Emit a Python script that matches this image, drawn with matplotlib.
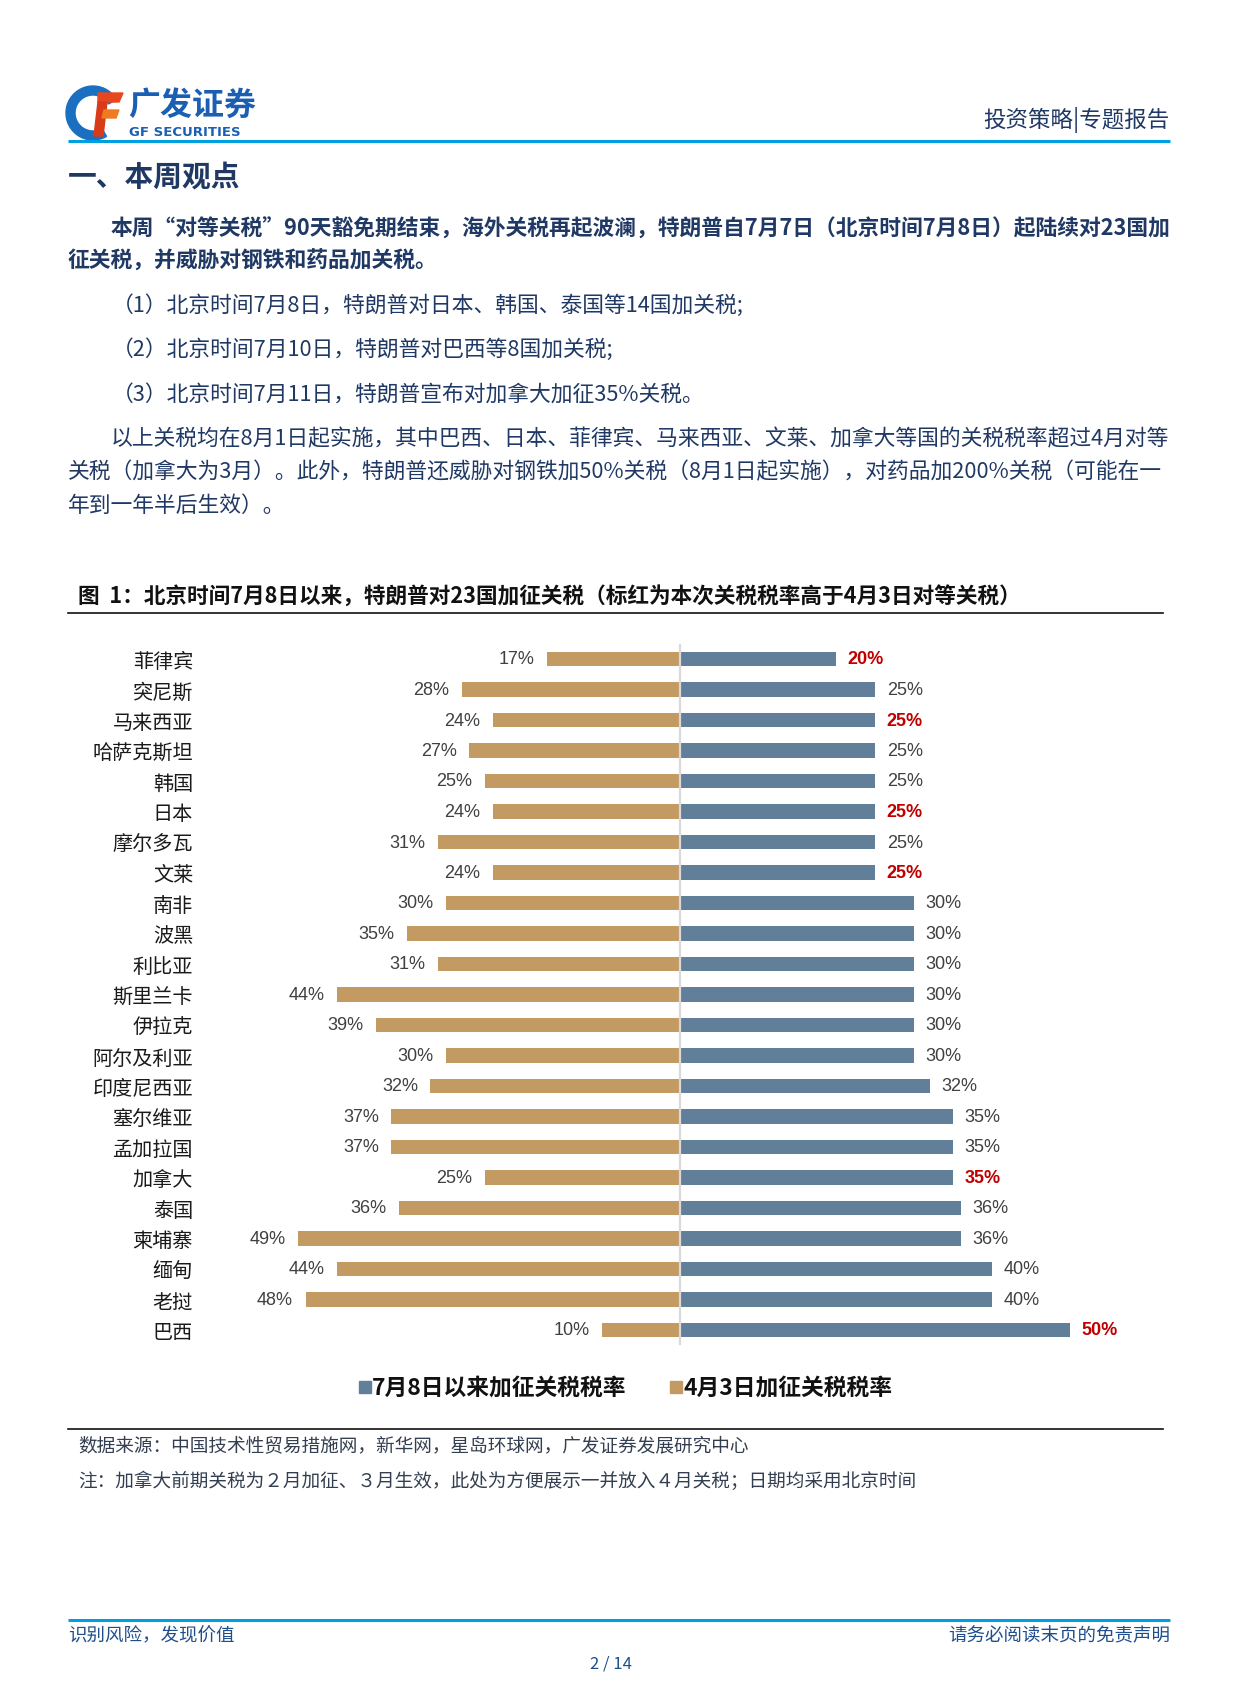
import matplotlib
matplotlib.use("Agg")
import matplotlib.pyplot as plt
from matplotlib.patches import Rectangle, Wedge, Polygon

plt.rcParams['font.family'] = ['Noto Sans CJK SC', 'DejaVu Sans']

# Chart data
countries = ['菲律宾', '突尼斯', '马来西亚', '哈萨克斯坦', '韩国', '日本', '摩尔多瓦', '文莱',
             '南非', '波黑', '利比亚', '斯里兰卡', '伊拉克', '阿尔及利亚', '印度尼西亚',
             '塞尔维亚', '孟加拉国', '加拿大', '泰国', '柬埔寨', '缅甸', '老挝', '巴西']
apr_rate = [17, 28, 24, 27, 25, 24, 31, 24, 30, 35, 31, 44, 39, 30, 32, 37, 37, 25, 36, 49, 44, 48, 10]
jul_rate = [20, 25, 25, 25, 25, 25, 25, 25, 30, 30, 30, 30, 30, 30, 32, 35, 35, 35, 36, 36, 40, 40, 50]
red_ones = ['菲律宾', '马来西亚', '日本', '文莱', '加拿大', '巴西']

legend_labels = ['7月8日以来加征关税税率', '4月3日加征关税税率']

body_lines = [
    ('本周“对等关税”90天豁免期结束，海外关税再起波澜，特朗普自7月7日（北京时间7月8日）起陆续对23国加', 111, 229, 'bold'),
    ('征关税，并威胁对钢铁和药品加关税。', 68, 261, 'bold'),
    ('（1）北京时间7月8日，特朗普对日本、韩国、泰国等14国加关税;', 112, 306, 'normal'),
    ('（2）北京时间7月10日，特朗普对巴西等8国加关税;', 112, 350, 'normal'),
    ('（3）北京时间7月11日，特朗普宣布对加拿大加征35%关税。', 112, 395, 'normal'),
    ('以上关税均在8月1日起实施，其中巴西、日本、菲律宾、马来西亚、文莱、加拿大等国的关税税率超过4月对等', 111, 439, 'normal'),
    ('关税（加拿大为3月）。此外，特朗普还威胁对钢铁加50%关税（8月1日起实施），对药品加200%关税（可能在一', 68, 472, 'normal'),
    ('年到一年半后生效）。', 68, 506, 'normal'),
]

BLUE = '#627F9A'
TAN = '#C49A63'
RED = '#C00000'
NAVY = '#1F3864'
W, H = 1240, 1683

fig = plt.figure(figsize=(W / 100, H / 100), dpi=100)

# page overlay in pixel coordinates
pg = fig.add_axes([0, 0, 1, 1])
pg.set_xlim(0, W)
pg.set_ylim(H, 0)
pg.axis('off')

# logo
pg.add_patch(Wedge((93, 114), 27, 60, 330, width=9, color='#1B6FC0'))
pg.add_patch(Polygon([(98, 94), (123, 94), (119, 103), (98, 103)], color='#E8461E'))
pg.add_patch(Polygon([(98, 103), (107, 103), (103, 137), (94, 137)], color='#D83A1A'))
pg.add_patch(Polygon([(104, 111), (119, 111), (116, 119), (102, 119)], color='#F07A22'))
pg.text(128, 106, '广发证券', fontsize=23, fontweight='heavy', color='#1A5FB4', va='center', ha='left')
pg.text(129, 132, 'GF SECURITIES', fontsize=9.5, fontweight='bold', color='#1A5FB4', va='center', ha='left',
        family='DejaVu Sans')
pg.text(1170, 120, '投资策略|专题报告', fontsize=16.2, color=NAVY, va='center', ha='right')
pg.plot([68, 1170], [142, 142], color='#00A0E0', lw=2.2, solid_capstyle='butt')

pg.text(68, 177, '一、本周观点', fontsize=20.7, fontweight='bold', color=NAVY, va='center', ha='left')
for txt, x, y, wt in body_lines:
    pg.text(x, y, txt, fontsize=15.7, fontweight=wt, color=NAVY, va='center', ha='left')

pg.text(78, 596, '图  1：北京时间7月8日以来，特朗普对23国加征关税（标红为本次关税税率高于4月3日对等关税）',
        fontsize=15.6, fontweight='bold', color='#111111', va='center', ha='left')
pg.plot([68, 1163], [614, 614], color='#111111', lw=1.2)

# legend
pg.add_patch(Rectangle((359, 1382), 12, 12, color=BLUE))
pg.text(372, 1388, legend_labels[0], fontsize=16.4, fontweight='bold', color='#111111', va='center', ha='left')
pg.add_patch(Rectangle((670, 1382), 12, 12, color=TAN))
pg.text(683, 1388, legend_labels[1], fontsize=16.4, fontweight='bold', color='#111111', va='center', ha='left')

pg.plot([68, 1163], [1430, 1430], color='#111111', lw=1.2)
pg.text(78, 1447, '数据来源：中国技术性贸易措施网，新华网，星岛环球网，广发证券发展研究中心',
        fontsize=13.45, color='#333F50', va='center', ha='left')
pg.text(78, 1481, '注：加拿大前期关税为２月加征、３月生效，此处为方便展示一并放入４月关税；日期均采用北京时间',
        fontsize=13.45, color='#333F50', va='center', ha='left')

# footer
pg.plot([68, 1170], [1621, 1621], color='#00A0E0', lw=2.2, solid_capstyle='butt')
pg.text(68, 1636, '识别风险，发现价值', fontsize=13.3, color='#1F4E8C', va='center', ha='left')
pg.text(1170, 1636, '请务必阅读末页的免责声明', fontsize=13.3, color='#1F4E8C', va='center', ha='right')
pg.text(611, 1664, '2 / 14', fontsize=12, color='#1F4E8C', va='center', ha='center')

# chart
top, bot, left, right = 644.75, 1346.25, 200, 1160
ax = fig.add_axes([left / W, 1 - bot / H, (right - left) / W, (bot - top) / H])
ax.patch.set_alpha(0)
scale = 7.8  # px per percent
half = (right - 680) / scale
ax.set_xlim(-half, half)
ax.set_ylim(len(countries) - 0.5, -0.5)

ypos = list(range(len(countries)))
ax.barh(ypos, [-v for v in apr_rate], height=0.46, color=TAN, zorder=2)
ax.barh(ypos, jul_rate, height=0.46, color=BLUE, zorder=2)
ax.axvline(0, color='#D9D9D9', lw=1.6, zorder=3)

for i, c in enumerate(countries):
    ax.text(-apr_rate[i] - 1.6, i, f'{apr_rate[i]}%', ha='right', va='center',
            fontsize=13, color='#404040', family='Liberation Sans')
    if c in red_ones:
        ax.text(jul_rate[i] + 1.5, i, f'{jul_rate[i]}%', ha='left', va='center',
                fontsize=13, color=RED, fontweight='bold', family='Liberation Sans')
    else:
        ax.text(jul_rate[i] + 1.5, i, f'{jul_rate[i]}%', ha='left', va='center',
                fontsize=13, color='#404040', family='Liberation Sans')

ax.set_yticks(ypos)
ax.set_yticklabels(countries, fontsize=14.5, color='#1a1a1a')
ax.tick_params(axis='y', length=0, pad=5)
ax.set_xticks([])
for s in ax.spines.values():
    s.set_visible(False)

fig.savefig('out.png', dpi=100)
